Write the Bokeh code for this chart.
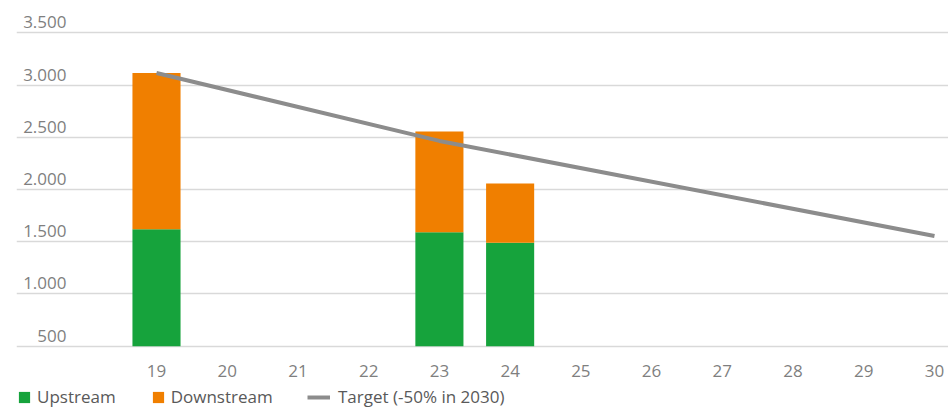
from bokeh.plotting import figure
from bokeh.models import (ColumnDataSource, FixedTicker, Range1d, LinearAxis,
                          Legend, LegendItem)
from bokeh.embed import file_html
from bokeh.resources import INLINE

# ---- data ----
years = [19, 23, 24]
upstream = [1620, 1590, 1490]
downstream = [1495, 965, 567]
target_years = [19, 23, 30]
target_values = [3115, 2465, 1555]
x_ticks = [19, 20, 21, 22, 23, 24, 25, 26, 27, 28, 29, 30]
y_ticks = [500, 1000, 1500, 2000, 2500, 3000, 3500]
y_tick_labels = ["500", "1.000", "1.500", "2.000", "2.500", "3.000", "3.500"]
axis_min = 500

GREEN = "#16a33c"
ORANGE = "#f07f00"
GRAY_LINE = "#8c8c8c"
TEXT = "#7f7f7f"
LEG_TEXT = "#595959"
FONT = "Open Sans"
FS = "17px"

W, H = 948, 409
frame_left = 16
px_per_year = 70.727
x_start = 19 - (156 - frame_left) / px_per_year
x_end = x_start + (W - frame_left) / px_per_year
px_per_unit = 313.4 / 3000
base_px = 345.7          # pixel row of the axis minimum
y_end = axis_min + base_px / px_per_unit
y_start = axis_min - (H - base_px) / px_per_unit

p = figure(width=W, height=H, output_backend="svg", toolbar_location=None,
           x_range=Range1d(x_start, x_end), y_range=Range1d(y_start, y_end),
           min_border_left=frame_left, min_border_right=0, min_border_top=0,
           min_border_bottom=0)
p.outline_line_color = None
p.background_fill_color = "white"
p.border_fill_color = "white"

totals = [u + d for u, d in zip(upstream, downstream)]
src = ColumnDataSource(dict(year=years, up=upstream, total=totals,
                            base=[axis_min] * len(years)))
r_up = p.vbar(x="year", bottom="base", top="up", width=0.68, source=src,
              fill_color=GREEN, line_color=None)
r_down = p.vbar(x="year", bottom="up", top="total", width=0.68, source=src,
                fill_color=ORANGE, line_color=None)
line = p.line(target_years, target_values, line_width=4, color=GRAY_LINE)

# x axis (labels drawn up into the plot area)
p.xaxis.ticker = FixedTicker(ticks=x_ticks)
p.xaxis.axis_line_color = None
p.xaxis.major_tick_line_color = None
p.xaxis.minor_tick_line_color = None
p.xaxis.major_tick_out = 0
p.xaxis.major_label_text_color = TEXT
p.xaxis.major_label_text_font = FONT
p.xaxis.major_label_text_font_size = FS
p.xaxis.major_label_standoff = -45
p.xgrid.visible = False

# grid
p.ygrid.ticker = FixedTicker(ticks=y_ticks)
p.ygrid.grid_line_color = "#d9d9d9"
p.ygrid.grid_line_width = 1.3

# y labels sit above their gridlines: axis on a shifted range
shift = 10.5 / px_per_unit
p.extra_y_ranges = {"lab": Range1d(y_start - shift, y_end - shift)}
p.yaxis.visible = False
yax = LinearAxis(y_range_name="lab", ticker=FixedTicker(ticks=y_ticks),
                 major_label_overrides=dict(zip(y_ticks, y_tick_labels)))
yax.axis_line_color = None
yax.major_tick_line_color = None
yax.minor_tick_line_color = None
yax.major_tick_out = 0
yax.major_label_standoff = -50
yax.major_label_text_color = TEXT
yax.major_label_text_font = FONT
yax.major_label_text_font_size = FS
p.add_layout(yax, "left")

# legends
def style(lg):
    lg.orientation = "horizontal"
    lg.border_line_color = None
    lg.background_fill_alpha = 0
    lg.padding = 0
    lg.margin = 0
    lg.spacing = 35
    lg.label_text_font = FONT
    lg.label_text_font_size = FS
    lg.label_text_color = LEG_TEXT
    lg.label_height = 20

leg1 = Legend(items=[LegendItem(label="Upstream", renderers=[r_up]),
                     LegendItem(label="Downstream", renderers=[r_down])],
              location=(1, 1))
style(leg1)
leg1.glyph_width = 14
leg1.glyph_height = 14
leg1.label_standoff = 6
leg2 = Legend(items=[LegendItem(label="Target (-50% in 2030)", renderers=[line])],
              location=(291, 1))
style(leg2)
leg2.glyph_width = 23
leg2.glyph_height = 14
leg2.label_standoff = 8
p.add_layout(leg1, "center")
p.add_layout(leg2, "center")

open("out.html", "w").write(file_html(p, INLINE))
